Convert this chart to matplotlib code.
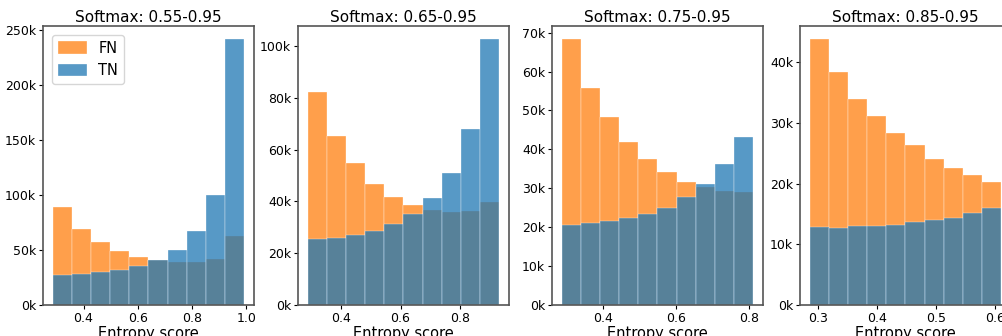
import numpy as np
import matplotlib
matplotlib.use("Agg")
import matplotlib.pyplot as plt
from matplotlib.ticker import FuncFormatter

# ---- data (counts per bin) ----
titles = ["Softmax: 0.55-0.95", "Softmax: 0.65-0.95", "Softmax: 0.75-0.95", "Softmax: 0.85-0.95"]
entropy_min = [0.286, 0.286, 0.286, 0.286]
entropy_max = [0.993, 0.934, 0.811, 0.610]

fn_1 = [88.8, 68.8, 57.0, 49.0, 43.6, 41.3, 39.0, 39.0, 41.8, 63.0]
tn_1 = [27.3, 28.2, 30.0, 31.8, 35.5, 41.0, 50.3, 67.0, 100.0, 241.5]

fn_2 = [82.2, 65.3, 54.7, 46.7, 41.8, 38.7, 36.7, 36.0, 36.3, 39.8]
tn_2 = [25.5, 25.9, 27.0, 28.6, 31.3, 35.1, 41.4, 50.8, 68.0, 102.6]

fn_3 = [68.3, 55.7, 48.2, 41.8, 37.4, 34.1, 31.7, 30.3, 29.4, 29.1]
tn_3 = [20.6, 21.1, 21.5, 22.4, 23.4, 25.0, 27.8, 31.0, 36.2, 43.3]

fn_4 = [43.8, 38.4, 34.0, 31.1, 28.3, 26.3, 24.0, 22.6, 21.5, 20.3]
tn_4 = [12.9, 12.7, 13.0, 13.0, 13.2, 13.7, 14.0, 14.3, 15.2, 16.0]

fn_all = [fn_1, fn_2, fn_3, fn_4]
tn_all = [tn_1, tn_2, tn_3, tn_4]

# ---- figure ----
W, H = 1003, 336
fig = plt.figure(figsize=(W / 100, H / 100), dpi=100)

lefts = [43, 298, 552, 800]
ax_w = 211
top, bottom = 26, 305

kfmt = FuncFormatter(lambda v, p: f"{int(round(v / 1000))}k")

for i in range(4):
    ax = fig.add_axes([lefts[i] / W, 1 - bottom / H, ax_w / W, (bottom - top) / H])
    edges = np.linspace(entropy_min[i], entropy_max[i], 11)
    centers = (edges[:-1] + edges[1:]) / 2
    fn = np.array(fn_all[i]) * 1000
    tn = np.array(tn_all[i]) * 1000
    ax.hist(centers, bins=edges, weights=fn, color="tab:orange", alpha=0.75,
            edgecolor="#ffffff", linewidth=0.3, label="FN")
    ax.hist(centers, bins=edges, weights=tn, color="tab:blue", alpha=0.75,
            edgecolor="#ffffff", linewidth=0.3, label="TN")
    ax.set_title(titles[i], fontsize=11, pad=3)
    ax.set_xlabel("Entropy score", fontsize=10.5, labelpad=1)
    ax.yaxis.set_major_formatter(kfmt)
    ax.tick_params(labelsize=9, length=3, width=0.8, pad=2)
    for s in ax.spines.values():
        s.set_color("#555555")
        s.set_linewidth(1.2)
    if i == 0:
        ax.legend(loc="upper left", fontsize=10.5, handlelength=2.0,
                  borderaxespad=0.6, handleheight=0.9)

fig.savefig("out.png", dpi=100)
